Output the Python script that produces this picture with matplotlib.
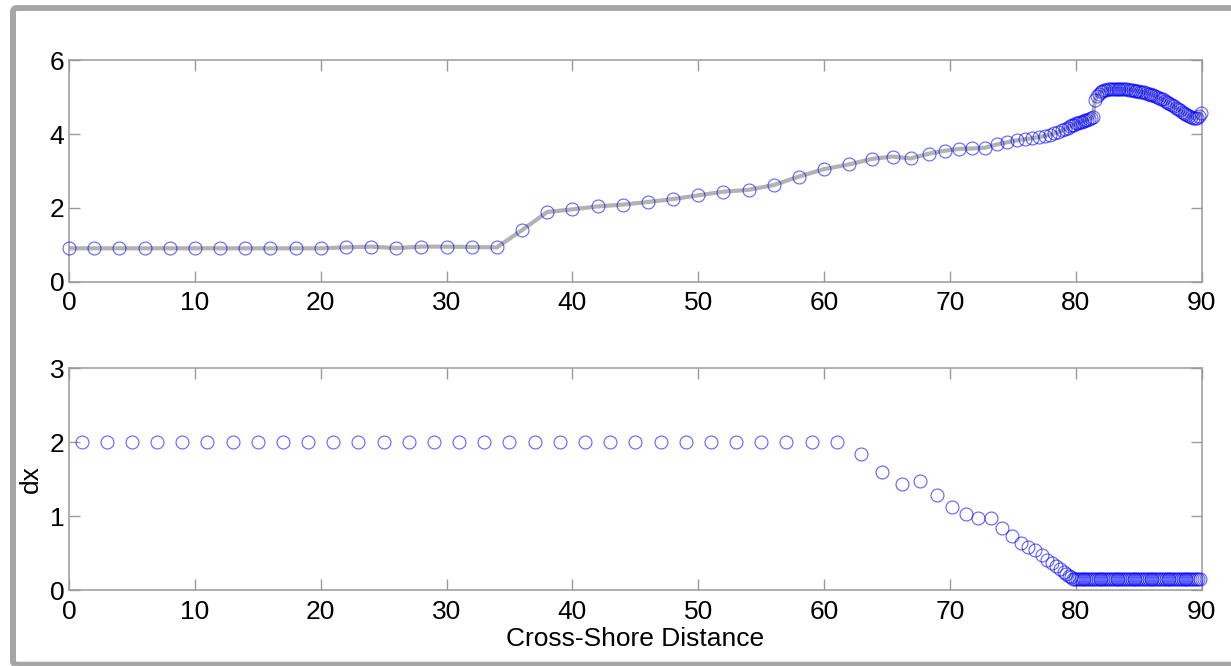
import numpy as np
import matplotlib
matplotlib.use("Agg")
import matplotlib.pyplot as plt
from matplotlib.patches import FancyBboxPatch
from matplotlib.transforms import IdentityTransform

plt.rcParams["font.family"] = ["Liberation Sans", "DejaVu Sans"]

# Grid spacing between consecutive cross-shore nodes (m)
dx_offshore = [2.0] * 31
dx_transition = [1.836, 1.597, 1.43, 1.479, 1.286, 1.123, 1.024, 0.979, 0.97,
                 0.839, 0.731, 0.64, 0.586, 0.541, 0.47, 0.41, 0.36, 0.32,
                 0.28, 0.24, 0.21, 0.19, 0.17]
dx_nearshore = [0.15] * 68
dx_values = np.array(dx_offshore + dx_transition + dx_nearshore)

# Bed elevation at each node
z_offshore = [0.905, 0.905, 0.905, 0.905, 0.905, 0.905, 0.905, 0.905, 0.905,
              0.905, 0.905, 0.93, 0.95, 0.91, 0.95, 0.95, 0.94, 0.93,
              1.40, 1.89, 1.96, 2.04, 2.09, 2.16, 2.24, 2.34, 2.44, 2.49,
              2.62, 2.85, 3.05, 3.18]
z_transition = [3.33, 3.39, 3.34, 3.47, 3.55, 3.60, 3.61, 3.63, 3.72, 3.78,
                3.83, 3.86, 3.89, 3.92, 3.95, 3.98, 4.02, 4.05, 4.10, 4.14,
                4.17, 4.21, 4.24]
z_nearshore = [4.26, 4.29, 4.31, 4.32, 4.34, 4.35, 4.37, 4.39, 4.41, 4.43,
               4.46, 4.92, 5.04, 5.10, 5.14, 5.17, 5.19, 5.20, 5.21, 5.22,
               5.22, 5.23, 5.23, 5.23, 5.22, 5.22, 5.22, 5.21, 5.21, 5.20,
               5.20, 5.19, 5.18, 5.17, 5.16, 5.15, 5.14, 5.13, 5.12, 5.10,
               5.09, 5.07, 5.05, 5.03, 5.01, 4.99, 4.96, 4.94, 4.91, 4.88,
               4.85, 4.82, 4.78, 4.75, 4.71, 4.68, 4.64, 4.61, 4.57, 4.54,
               4.51, 4.48, 4.46, 4.44, 4.43, 4.44, 4.49, 4.57]
z_values = np.array(z_offshore + z_transition + z_nearshore)

x_nodes = np.concatenate([[0.0], np.cumsum(dx_values)])
x_mid = x_nodes[:-1] + dx_values / 2

x_ticks = [0, 10, 20, 30, 40, 50, 60, 70, 80, 90]
z_ticks = [0, 2, 4, 6]
dx_ticks = [0, 1, 2, 3]

W, H = 1231, 666
fig = plt.figure(figsize=(W / 100, H / 100), dpi=100)

left = 69 / W
width = (1201.7 - 69) / W
ax1 = fig.add_axes([left, (H - 281.7) / H, width, 221.4 / H])
ax2 = fig.add_axes([left, (H - 590.0) / H, width, 221.7 / H])

spine_color = "#9a9a9a"
label_size = 19

def style_axes(ax, yticks):
    ax.set_xlim(0, 90)
    ax.set_ylim(yticks[0], yticks[-1])
    ax.set_xticks(x_ticks)
    ax.set_yticks(yticks)
    for s in ax.spines.values():
        s.set_color(spine_color)
        s.set_linewidth(1.1)
    ax.tick_params(direction="in", length=8, width=1.0, color=spine_color,
                   top=True, right=True, labelsize=label_size,
                   labelcolor="black")
    ax.tick_params(axis="x", pad=7)
    ax.tick_params(axis="y", pad=3.5)

circle_style = dict(linestyle="none", marker="o", markersize=9.3,
                    markerfacecolor="none", markeredgecolor=(0, 0, 1, 0.62),
                    markeredgewidth=0.8)

ax1.plot(x_nodes, z_values, color="#b2b2b2", linewidth=3.0, zorder=2)
ax1.plot(x_nodes, z_values, zorder=3, clip_on=False, **circle_style)
style_axes(ax1, z_ticks)

ax2.plot(x_mid, dx_values, zorder=3, clip_on=False, **circle_style)
style_axes(ax2, dx_ticks)
ax2.set_xlabel("Cross-Shore Distance", fontsize=label_size, labelpad=2)
ax2.set_ylabel("dx", fontsize=label_size, labelpad=5)

# Gray frame around the figure
frame = FancyBboxPatch((13, 1.3), 1240, 656.7,
                       boxstyle="round,pad=0,rounding_size=4",
                       transform=IdentityTransform(), facecolor="none",
                       edgecolor="#a6a6a6", linewidth=4.3, clip_on=False)
fig.add_artist(frame)

fig.savefig("out.png", dpi=100)
